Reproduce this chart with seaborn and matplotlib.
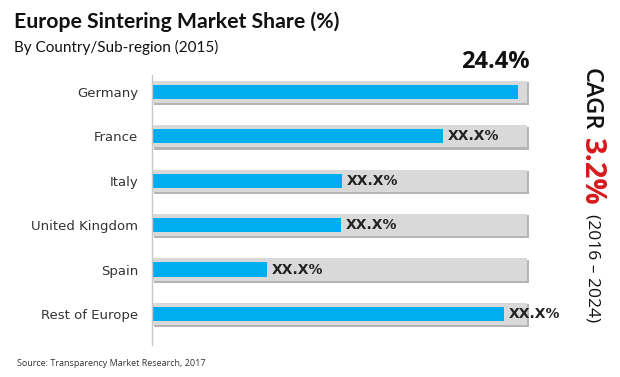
import matplotlib
matplotlib.use("Agg")
import matplotlib.pyplot as plt
import seaborn as sns
import pandas as pd

# data (only Germany is labelled, the rest are estimated)
countries = ["Germany", "France", "Italy", "United Kingdom", "Spain", "Rest of Europe"]
shares = [24.4, 19.4, 12.7, 12.6, 7.7, 23.5]
bar_labels = ["", "XX.X%", "XX.X%", "XX.X%", "XX.X%", "XX.X%"]
track_max = 25.0

df = pd.DataFrame({"country": countries, "share": shares, "track": [track_max] * len(countries)})

sns.set_style("white")
plt.rcParams["font.family"] = ["DejaVu Sans"]

fig = plt.figure(figsize=(6.2, 3.77), dpi=100)
ax = fig.add_axes([152 / 620, 1 - 345 / 377, (530 - 152) / 620, (345 - 75) / 377])

# grey track with a little shadow, then the blue bars on top
sns.barplot(data=df, x="track", y="country", orient="h", color="#b5b5b5", width=0.52,
            ax=ax, saturation=1, linewidth=0)
for p in ax.patches:
    p.set_x(p.get_x() + 0.12)
    p.set_y(p.get_y() + 0.04)
sns.barplot(data=df, x="track", y="country", orient="h", color="#d9d9d9", width=0.5,
            ax=ax, saturation=1, linewidth=0)
sns.barplot(data=df, x="share", y="country", orient="h", color="#00adef", width=0.32,
            ax=ax, saturation=1, linewidth=0)

for i, (v, lab) in enumerate(zip(shares, bar_labels)):
    if lab:
        ax.text(v + 0.3, i, lab, va="center", ha="left", fontsize=10, fontweight="bold",
                color="#222222", clip_on=False)

ax.set_xlim(0, track_max + 0.2)
ax.set_ylim(5.7, -0.38)
ax.set_xlabel("")
ax.set_ylabel("")
ax.set_xticks([])
ax.tick_params(axis="y", length=0, pad=10, labelsize=9.5, labelcolor="#333333")
for s in ["top", "right", "bottom"]:
    ax.spines[s].set_visible(False)
ax.spines["left"].set_color("#c8c8c8")
ax.spines["left"].set_linewidth(1)

fig.text(14 / 620, 1 - 22 / 377, "Europe Sintering Market Share (%)", fontsize=15.3,
         fontweight="bold", family="Lato", va="center", ha="left", color="#111111")
fig.text(14 / 620, 1 - 47 / 377, "By Country/Sub-region (2015)", fontsize=11,
         family="Lato", va="center", ha="left", color="#111111")
fig.text(530 / 620, 1 - 62 / 377, "24.4%", fontsize=17, fontweight="bold",
         family="Open Sans", va="center", ha="right", color="#111111")

# CAGR callout, rotated to read top to bottom
fig.text(591 / 620, 1 - 68 / 377, "CAGR", fontsize=17, fontweight="semibold", rotation=-90,
         va="top", ha="center", family="Open Sans", color="#111111")
fig.text(591 / 620, 1 - 138 / 377, "3.2%", fontsize=21, fontweight="bold", rotation=-90,
         va="top", ha="center", family="Open Sans", color="#d7191c")
fig.text(592 / 620, 1 - 214 / 377, "(2016 – 2024)", fontsize=12.5, rotation=-90,
         va="top", ha="center", family="Open Sans", color="#111111")

fig.text(17 / 620, 1 - 363 / 377, "Source: Transparency Market Research, 2017", fontsize=6.5,
         family="Open Sans", va="center", ha="left", color="#333333")

fig.savefig("out.png", dpi=100)
